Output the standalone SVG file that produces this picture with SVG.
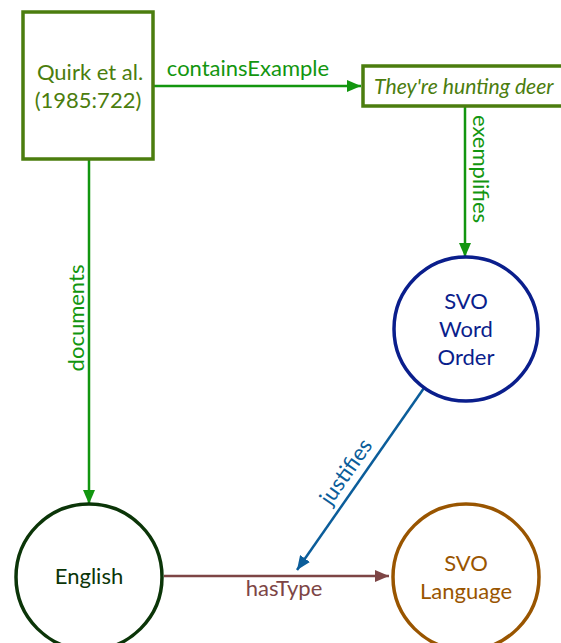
<svg xmlns="http://www.w3.org/2000/svg" width="561" height="643" viewBox="0 0 561 643">
<defs>
<style>
text{font-family:Lato,"Open Sans","Liberation Sans",sans-serif;font-size:22px;text-anchor:middle}
.node{fill:#fff;stroke-width:3.5}
.edge{fill:none;stroke-width:2.5}
</style>
<marker id="aG" viewBox="0 0 14 12" refX="14" refY="6" markerWidth="14" markerHeight="12" markerUnits="userSpaceOnUse" orient="auto"><path d="M0,0L14,6L0,12z" fill="#12960f"/></marker>
<marker id="aB" viewBox="0 0 14 12" refX="14" refY="6" markerWidth="14" markerHeight="12" markerUnits="userSpaceOnUse" orient="auto"><path d="M0,0L14,6L0,12z" fill="#0b5d9a"/></marker>
<marker id="aR" viewBox="0 0 14 12" refX="14" refY="6" markerWidth="14" markerHeight="12" markerUnits="userSpaceOnUse" orient="auto"><path d="M0,0L14,6L0,12z" fill="#7d4545"/></marker>
</defs>
<rect width="561" height="643" fill="#fff"/>
<g id="connectors">
<g id="e-containsExample">
<line class="edge" x1="153" y1="86" x2="361" y2="86" stroke="#12960f" marker-end="url(#aG)"/>
<text x="248" y="76" fill="#12960f">containsExample</text>
</g>
<g id="e-exemplifies">
<line class="edge" x1="465" y1="106" x2="465" y2="257" stroke="#12960f" marker-end="url(#aG)"/>
<text transform="translate(473,169) rotate(90)" fill="#12960f">exemplifies</text>
</g>
<g id="e-documents">
<line class="edge" x1="89" y1="159" x2="89" y2="504" stroke="#12960f" marker-end="url(#aG)"/>
<text transform="translate(84,318) rotate(-90)" fill="#12960f">documents</text>
</g>
<g id="e-justifies">
<line class="edge" x1="424" y1="388" x2="297" y2="570" stroke="#0b5d9a" marker-end="url(#aB)"/>
<text transform="translate(352,476) rotate(-55)" fill="#0b5d9a">justifies</text>
</g>
<g id="e-hasType">
<line class="edge" x1="164" y1="576" x2="389" y2="576" stroke="#7d4545" marker-end="url(#aR)"/>
<text x="284" y="596" fill="#7d4545">hasType</text>
</g>
</g>
<g id="n-quirk">
<rect class="node" x="23" y="12" width="130" height="147" stroke="#4b7d0e"/>
<text x="90" y="80" fill="#4b7d0e">Quirk et al.</text>
<text x="88" y="108" fill="#4b7d0e">(1985:722)</text>
</g>
<g id="n-example">
<rect class="node" x="363" y="66" width="210" height="40" stroke="#4b7d0e"/>
<text x="374" y="94" fill="#4b7d0e" style="text-anchor:start;font-style:italic;font-size:21.2px">They're hunting deer</text>
</g>
<g id="n-svo-word-order">
<circle class="node" cx="466" cy="329" r="72" stroke="#0a1e8c"/>
<text x="466" y="309" fill="#0a1e8c">SVO</text>
<text x="466" y="337" fill="#0a1e8c">Word</text>
<text x="466" y="365" fill="#0a1e8c">Order</text>
</g>
<g id="n-english">
<circle class="node" cx="89" cy="577" r="73" stroke="#0b3508"/>
<text x="89" y="584" fill="#0b3508">English</text>
</g>
<g id="n-svo-language">
<circle class="node" cx="466" cy="577" r="73" stroke="#995500"/>
<text x="466" y="571" fill="#995500">SVO</text>
<text x="466" y="599" fill="#995500">Language</text>
</g>
</svg>
